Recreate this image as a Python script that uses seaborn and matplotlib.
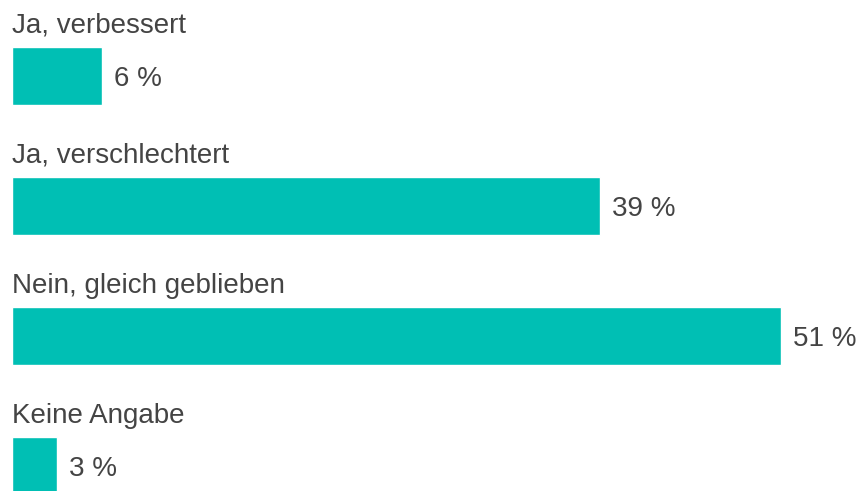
import matplotlib
matplotlib.use("Agg")
import matplotlib.pyplot as plt
import seaborn as sns
import pandas as pd

categories = ["Ja, verbessert", "Ja, verschlechtert", "Nein, gleich geblieben", "Keine Angabe"]
values = [6, 39, 51, 3]
value_labels = ["6 %", "39 %", "51 %", "3 %"]

df = pd.DataFrame({"Kategorie": categories, "Wert": values})

sns.set_theme(style="white")
plt.rcParams["font.family"] = ["Liberation Sans", "DejaVu Sans"]

W, H, DPI = 859, 491, 100
fig = plt.figure(figsize=(W / DPI, H / DPI), dpi=DPI, facecolor="white")
ax = fig.add_axes([0, 0, 1, 1])

BAR_COLOR = "#00BFB4"
TEXT_COLOR = "#444444"

px_per_unit_x = 15.07
x0_px = 12
row_px = 130
first_center_px = 76
bar_px = 58

sns.barplot(data=df, y="Kategorie", x="Wert", orient="h", color=BAR_COLOR,
            width=bar_px / row_px, saturation=1, ax=ax, order=categories)

ax.set_xlim(-x0_px / px_per_unit_x, (W - x0_px) / px_per_unit_x)
ax.set_ylim((H - first_center_px) / row_px, -first_center_px / row_px)

label_offset = 43 / row_px
val_gap = 12 / px_per_unit_x
for i, (cat, v, vl) in enumerate(zip(categories, values, value_labels)):
    ax.text(0, i - label_offset, cat, ha="left", va="baseline",
            fontsize=20, color=TEXT_COLOR)
    ax.text(v + val_gap, i, vl, ha="left", va="center_baseline",
            fontsize=20, color=TEXT_COLOR)

ax.set_axis_off()
fig.savefig("out.png", dpi=DPI, facecolor="white")
